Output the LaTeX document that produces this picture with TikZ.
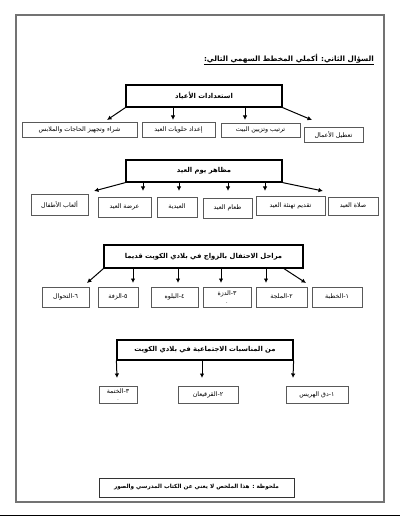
\documentclass[tikz,border=0pt]{standalone}
\usepackage{fontspec}
\TeXXeTstate=1
\newfontfamily\arabicfont[Script=Arabic]{DejaVu Sans}
\usetikzlibrary{arrows.meta}
\tikzset{
  box/.style={draw=black!65, line width=0.6pt, inner sep=1pt, align=center,
    font=\arabicfont\fontsize{6.3}{7}\selectfont},
  head/.style={draw=black, line width=1.2pt, inner sep=1pt,
    font=\arabicfont\bfseries\fontsize{6.8}{8}\selectfont},
  arr/.style={-{Latex[length=4.5pt,width=4.5pt]}, line width=1pt},
  frame/.style={draw=black!55, line width=1.6pt},
}
\newcommand{\bx}[7][]{\node[box,#1,minimum width={#5pt-#3pt},minimum height={#6pt-#4pt}] (#2) at ({(#3+#5)/2},{(#4+#6)/2}) {#7};}
\newcommand{\hd}[6]{\node[head,minimum width={#4pt-#2pt},minimum height={#5pt-#3pt}] (#1) at ({(#2+#4)/2},{(#3+#5)/2}) {#6};}
\begin{document}
\begin{tikzpicture}[x=1pt,y=-1pt]
\useasboundingbox (0,0) rectangle (400,518);
\draw[frame] (16,15) rectangle (384,502);
\draw[line width=1pt] (0,515) -- (400,515);

% title
\node[anchor=base east, inner sep=0pt, font=\arabicfont\bfseries\fontsize{7.3}{8}\selectfont] (title) at (374,62) {\beginR السؤال الثاني: أكملي المخطط السهمي التالي:\endR};
\draw[line width=0.6pt] ([yshift=-2pt]title.base west) -- ([yshift=-2pt]title.base east);

% block 1
\hd{h1}{126}{85}{282}{107}{\beginR استعدادات الأعياد\endR}
\bx{r1a}{22}{122}{137}{137}{\beginR شراء وتجهيز الحاجات والملابس\endR}
\bx{r1b}{142}{122}{215}{137}{\beginR إعداد حلويات العيد\endR}
\bx{r1c}{221}{123}{300}{137}{\beginR ترتيب وتزيين البيت\endR}
\bx{r1d}{304}{127}{363}{142}{\beginR تعطيل الأعمال\endR}
\coordinate (e11) at (107,120);
\coordinate (e12) at (173,120);
\coordinate (e13) at (245,120);
\coordinate (e14) at (312,120);
\draw[arr] (h1.south west) -- (e11);
\draw[arr] (e12 |- h1.south) -- (e12);
\draw[arr] (e13 |- h1.south) -- (e13);
\draw[arr] (h1.south east) -- (e14);

% block 2
\hd{h2}{126}{160}{282}{182}{\beginR مظاهر يوم العيد\endR}
\bx{r2a}{31}{194}{88}{215}{\beginR ألعاب الأطفال\endR}
\bx{r2b}{98}{197}{151}{217}{\beginR عرضة العيد\endR}
\bx{r2c}{157}{197}{197}{217}{\beginR العيدية\endR}
\bx{r2d}{203}{198}{252}{218}{\beginR طعام العيد\endR}
\bx{r2e}{256}{196}{325}{215}{\beginR تقديم تهنئة العيد\endR}
\bx{r2f}{328}{197}{378}{215}{\beginR صلاة العيد\endR}
\coordinate (e21) at (94,191);
\coordinate (e22) at (143,191);
\coordinate (e23) at (179,191);
\coordinate (e24) at (228,191);
\coordinate (e25) at (265,191);
\coordinate (e26) at (323,191);
\draw[arr] (h2.south west) -- (e21);
\draw[arr] (e22 |- h2.south) -- (e22);
\draw[arr] (e23 |- h2.south) -- (e23);
\draw[arr] (e24 |- h2.south) -- (e24);
\draw[arr] (e25 |- h2.south) -- (e25);
\draw[arr] (h2.south east) -- (e26);

% block 3
\hd{h3}{104}{245}{303}{268}{\beginR مراحل الاحتفال بالزواج في بلادي الكويت قديما\endR}
\bx{r3a}{42}{287}{89}{307}{\beginR ٦-التحوال\endR}
\bx{r3b}{98}{287}{138}{307}{\beginR ٥-الزفة\endR}
\bx{r3c}{151}{287}{198}{307}{\beginR ٤-البلوه\endR}
\bx[inner sep=0pt]{r3d}{203}{287}{251}{307}{\beginR ٣-الدزة\endR\\[0.5pt]{\fontsize{5}{5}\selectfont .}}
\bx{r3e}{256}{287}{307}{307}{\beginR ٢-الملجة\endR}
\bx{r3f}{312}{287}{362}{307}{\beginR ١-الخطبة\endR}
\coordinate (e31) at (87,283);
\coordinate (e32) at (133,283);
\coordinate (e33) at (178,283);
\coordinate (e34) at (221,283);
\coordinate (e35) at (266,283);
\coordinate (e36) at (306,283);
\coordinate (s36) at (283,268);
\draw[arr] (h3.south west) -- (e31);
\draw[arr] (e32 |- h3.south) -- (e32);
\draw[arr] (e33 |- h3.south) -- (e33);
\draw[arr] (e34 |- h3.south) -- (e34);
\draw[arr] (e35 |- h3.south) -- (e35);
\draw[arr] (s36) -- (e36);

% block 4
\hd{h4}{117}{340}{293}{360}{\beginR من المناسبات الاجتماعية في بلادي الكويت\endR}
\bx[inner sep=0pt]{r4a}{99}{386}{137}{403}{\beginR ٣-الختمة\endR\\[0pt]{\fontsize{4.5}{4.5}\selectfont .}}
\bx{r4b}{178}{386}{238}{403}{\beginR ٢-القرقيعان\endR}
\bx{r4c}{286}{386}{348}{403}{\beginR ١-دق الهريس\endR}
\coordinate (e41) at (117,378);
\coordinate (e42) at (202,378);
\coordinate (e43) at (293,378);
\draw[arr] (h4.south west) -- (e41);
\draw[arr] (e42 |- h4.south) -- (e42);
\draw[arr] (h4.south east) -- (e43);

% note
\node[box, line width=0.7pt, draw=black!80, minimum width=195pt, minimum height=19pt,
  font=\arabicfont\bfseries\fontsize{5.7}{6.5}\selectfont] (note) at (196.5,487.5)
  {\beginR ملحوظة : هذا الملخص لا يغني عن الكتاب المدرسي والصور\endR};
\end{tikzpicture}
\end{document}
